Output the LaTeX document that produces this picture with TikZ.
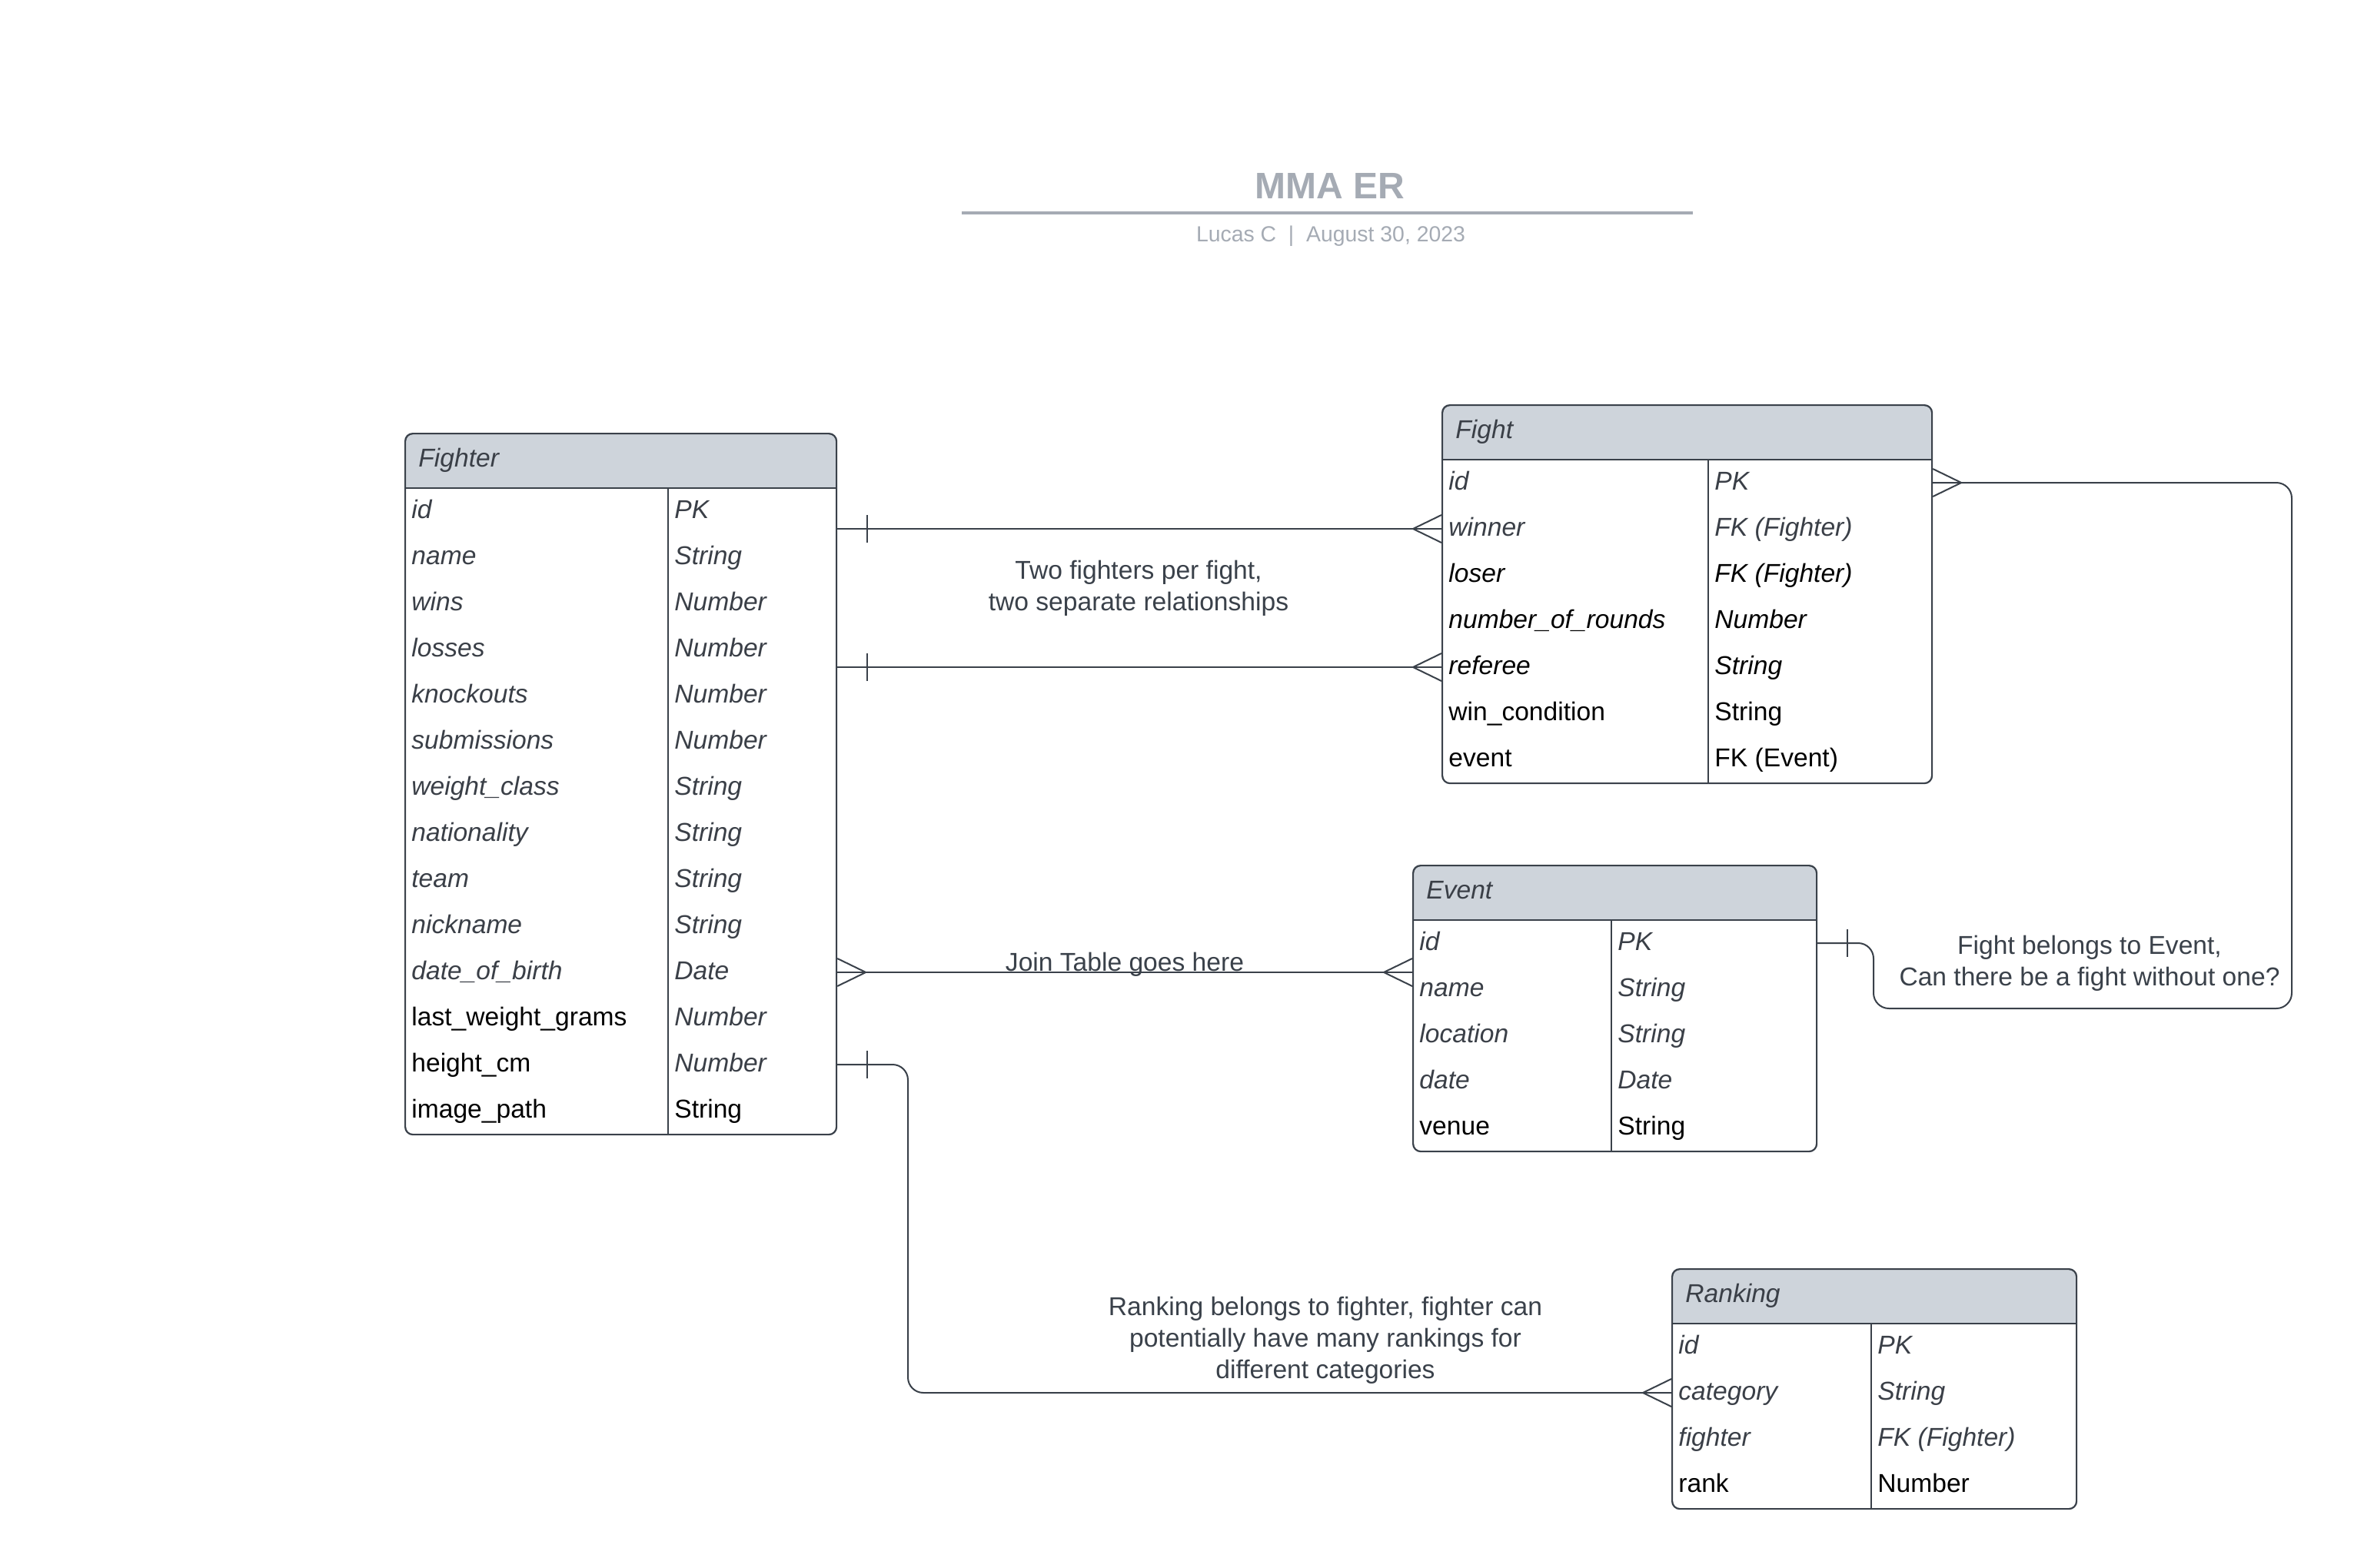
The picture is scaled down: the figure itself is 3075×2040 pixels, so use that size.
\documentclass[tikz,border=0pt]{standalone}
\usepackage{fontspec}
\setmainfont{Liberation Sans}
\usetikzlibrary{calc}
\definecolor{ink}{HTML}{3A414A}
\definecolor{hdr}{HTML}{CED4DB}
\definecolor{ttl}{HTML}{A5ABB4}
\definecolor{txg}{HTML}{3A3F47}

\newcommand\stG{\itshape\color{txg}}
\newcommand\stB{\itshape\color{black}}
\newcommand\stN{\upshape\color{black}}

\tikzset{
 tbl/.style={draw=ink, line width=1.1pt, rounded corners=5pt, inner sep=0pt, anchor=north west},
 sepline/.style={draw=ink, line width=1.1pt},
 cell/.style={inner sep=0pt, anchor=base west, font=\fontsize{16.8}{20}\selectfont},
 hdrtxt/.style={inner sep=0pt, anchor=base west, font=\fontsize{16.8}{20}\selectfont\itshape, text=txg},
 conn/.style={draw=ink, line width=1pt},
 note/.style={align=center, text=ink, inner sep=0pt, font=\fontsize{16.8}{20.5}\selectfont},
}

% \ertable{name}{L}{T}{R}{B}{D}{title}{rows}
\newcommand\ertable[8]{
  \begin{scope}
    \clip[rounded corners=5pt] (#2,#3) rectangle (#4,#5);
    \fill[hdr] (#2,#3) rectangle (#4,#3+72);
  \end{scope}
  \node[tbl, minimum width={(#4-#2)*0.5pt}, minimum height={(#5-#3)*0.5pt}] (#1) at (#2,#3) {};
  \draw[sepline] (#2,#3+72) -- (#4,#3+72) (#6,#3+72) -- (#6,#5);
  \node[hdrtxt] (#1-title) at (#2+18,#3+36+8) {#7};
  \foreach \ka/\tb [count=\i] in {#8} {
     \coordinate (#1-r\i) at (#2, #3+72+60*\i-30);
     \node[cell] (#1-k\i) at (#2+9, #3+72+60*\i-30+9) {\ka};
     \node[cell] (#1-t\i) at (#6+8, #3+72+60*\i-30+9) {\tb};
  }
}

\newcommand\crowL[1]{\draw[conn] (#1) ++(-37,0) -- ++(37,-18) ++(0,36) -- ++(-37,-18);}
\newcommand\crowR[1]{\draw[conn] (#1) ++(37,0) -- ++(-37,-18) ++(0,36) -- ++(37,-18);}
\newcommand\barR[1]{\draw[conn] (#1) ++(39,-18) -- ++(0,36);}

\begin{document}
\begin{tikzpicture}[x=0.5pt, y=-0.5pt]
\fill[white] (0,0) rectangle (3075,2040);
\useasboundingbox (0,0) rectangle (3075,2040);

% title
\node[font=\fontsize{24}{28}\selectfont\bfseries, text=ttl, inner sep=0pt, anchor=base] (title) at (1730,258) {MMA ER};
\draw[ttl, line width=2pt] (1251,277) -- (2202,277);
\node[font=\fontsize{14.2}{16}\selectfont, text=ttl, inner sep=0pt, anchor=base] (subtitle) at (1731,314) {Lucas C\ \ |\ \ August 30, 2023};

% tables
\ertable{fighter}{526}{563}{1087}{1475}{869}{Fighter}{
  \stG id/\stG PK,
  \stG name/\stG String,
  \stG wins/\stG Number,
  \stG losses/\stG Number,
  \stG knockouts/\stG Number,
  \stG submissions/\stG Number,
  \stG weight\_class/\stG String,
  \stG nationality/\stG String,
  \stG team/\stG String,
  \stG nickname/\stG String,
  \stG date\_of\_birth/\stG Date,
  \stN last\_weight\_grams/\stG Number,
  \stN height\_cm/\stG Number,
  \stN image\_path/\stN String}

\ertable{fight}{1875}{526}{2512}{1018}{2222}{Fight}{
  \stG id/\stG PK,
  \stG winner/\stG FK (Fighter),
  \stB loser/\stB FK (Fighter),
  \stB number\_of\_rounds/\stB Number,
  \stB referee/\stB String,
  \stN win\_condition/\stN String,
  \stN event/\stN FK (Event)}

\ertable{event}{1837}{1125}{2362}{1497}{2096}{Event}{
  \stG id/\stG PK,
  \stG name/\stG String,
  \stG location/\stG String,
  \stG date/\stG Date,
  \stN venue/\stN String}

\ertable{ranking}{2174}{1650}{2700}{1962}{2434}{Ranking}{
  \stG id/\stG PK,
  \stG category/\stG String,
  \stG fighter/\stG FK (Fighter),
  \stN rank/\stN Number}

% connectors
\draw[conn] (fight-r2 -| fighter.east) -- (fight-r2 -| fight.west);
\barR{fight-r2 -| fighter.east}
\crowL{fight-r2 -| fight.west}

\draw[conn] (fight-r5 -| fighter.east) -- (fight-r5 -| fight.west);
\barR{fight-r5 -| fighter.east}
\crowL{fight-r5 -| fight.west}

\draw[conn] (fighter-r11 -| fighter.east) -- (fighter-r11 -| event.west);
\crowR{fighter-r11 -| fighter.east}
\crowL{fighter-r11 -| event.west}

\coordinate (bendA) at (1181,1600);
\draw[conn, rounded corners=10pt] (fighter-r13 -| fighter.east) -| (bendA) |- (ranking-r2 -| ranking.west);
\barR{fighter-r13 -| fighter.east}
\crowL{ranking-r2 -| ranking.west}

\coordinate (fe1) at (2981,1312);
\coordinate (fe2) at (2437,1312);
\draw[conn, rounded corners=10pt] (fight-r1 -| fight.east) -| (fe1) -- (fe2) |- (event-r1 -| event.east);
\crowR{fight-r1 -| fight.east}
\barR{event-r1 -| event.east}

% notes
\node[note] (n1) at (1481,765) {Two fighters per fight,\\two separate relationships};
\node[note, anchor=base] (n2) at (1463,1263) {Join Table goes here};
\node[note] (n3) at (2718,1253) {Fight belongs to Event,\\Can there be a fight without one?};
\node[note] (n4) at (1724,1744) {Ranking belongs to fighter, fighter can\\potentially have many rankings for\\different categories};
\end{tikzpicture}
\end{document}
